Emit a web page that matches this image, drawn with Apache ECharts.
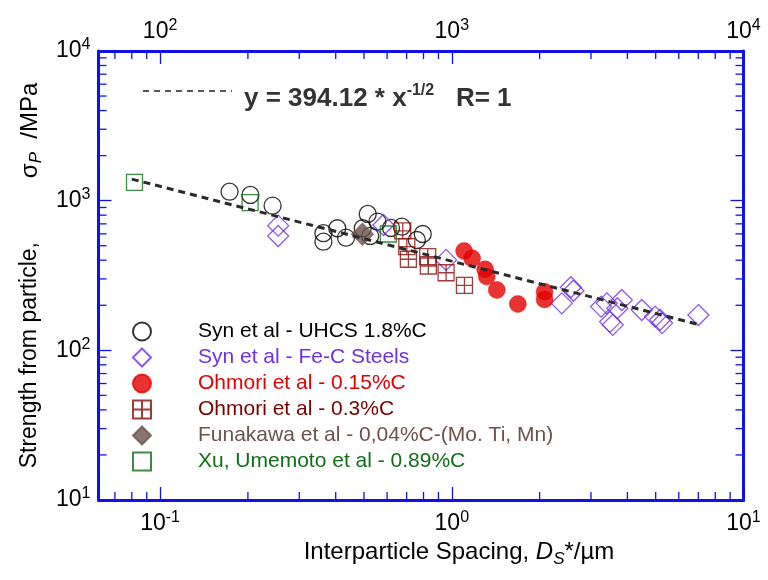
<!DOCTYPE html>
<html>
<head>
<meta charset="utf-8">
<title>Particle strength vs interparticle spacing</title>
<script src="https://cdn.jsdelivr.net/npm/echarts@6/dist/echarts.min.js"></script>
<style>
  html, body { margin: 0; padding: 0; background: #fff; }
  #chart { width: 768px; height: 580px; }
</style>
</head>
<body>
<div id="chart"></div>
<script>
// Interparticle spacing Ds* (µm) against strength from particles σp (MPa)

// Syn et al - UHCS 1.8%C
const synUhcsX = [0.173, 0.204, 0.243, 0.363, 0.363, 0.405, 0.434, 0.495, 0.515, 0.525, 0.556, 0.619, 0.674, 0.759, 0.795];
const synUhcsY = [1148, 1092, 926, 606, 532, 654, 566, 654, 815, 581, 724, 657, 670, 546, 599];

// Syn et al - Fe-C steels
const synFeCX = [0.254, 0.254, 0.583, 0.956, 2.383, 2.559, 2.612, 3.25, 3.40, 3.488, 3.563, 3.695, 3.826, 4.481, 4.977, 5.177, 5.26, 7.005];
const synFeCY = [681, 581, 688, 402, 206, 264, 250, 196, 206, 155, 148, 191, 217, 186, 168, 160, 152, 172];

// Ohmori et al - 0.15%C
const ohmori015X = [1.102, 1.174, 1.301, 1.318, 1.427, 1.684, 2.08, 2.08];
const ohmori015Y = [461, 412, 348, 311, 253, 204, 246, 219];

// Ohmori et al - 0.3%C
const ohmori03X = [0.679, 0.701, 0.710, 0.827, 0.831, 0.956, 1.105];
const ohmori03Y = [628, 493, 406, 423, 366, 330, 272];

// Funakawa et al
const funakawaX = [0.494];
const funakawaY = [597];

// Xu, Umemoto et al - 0.89%C
const xuX = [0.0817, 0.2035, 0.606];
const xuY = [1327, 970, 599];

// Power-law fit  y = 394.12 * x^(-1/2)
const fitCoef = 394.12;
const fitExponent = -0.5;
const fitSpan = [0.08, 7.1];

// Axis ranges and decade labels
const xRange = [0.0615, 10];
const topRange = [61.5, 10000];
const yRange = [10, 10000];
const bottomDecades = [-1, 0, 1];
const topDecades = [2, 3, 4];
const leftDecades = [1, 2, 3, 4];

// Minor tick positions (2..9 of each decade)
const minorX = [0.07, 0.08, 0.09, 0.2, 0.3, 0.4, 0.5, 0.6, 0.7, 0.8, 0.9, 2, 3, 4, 5, 6, 7, 8, 9];
const minorY = [20, 30, 40, 50, 60, 70, 80, 90, 200, 300, 400, 500, 600, 700, 800, 900, 2000, 3000, 4000, 5000, 6000, 7000, 8000, 9000];

const FONT = "'Liberation Sans', Arial, sans-serif";
const AXIS_BLUE = '#1010e8';
const HOLLOW = 'rgba(255,255,255,0)';

// Marker outlines (path symbols keep their aspect in the legend)
const DIAMOND = 'path://M5,0L10,5L5,10L0,5Z';
const SQUARE = 'path://M0,0H10V10H0Z';
const SQUARE_CROSS = 'path://M0,0H10V10H0Z M5,0V10 M0,5H10';

const zip = (xs, ys) => xs.map((x, i) => [x, ys[i]]);

function decadeLabel(decades) {
  return function (v) {
    const e = Math.log10(v);
    const r = Math.round(e);
    if (Math.abs(e - r) > 1e-6 || decades.indexOf(r) < 0) return '';
    return '{b|10}{s|' + r + '}';
  };
}

const labelRich = {
  b: { fontFamily: FONT, fontSize: 23, color: '#000', lineHeight: 28, verticalAlign: 'middle' },
  s: { fontFamily: FONT, fontSize: 16, color: '#000', lineHeight: 16, verticalAlign: 'top' }
};

function logAxis(extra) {
  return Object.assign({
    type: 'log',
    logBase: 10,
    axisLine: { show: true, onZero: false, lineStyle: { color: AXIS_BLUE, width: 3 } },
    axisTick: { show: true, inside: true, length: 13, lineStyle: { color: AXIS_BLUE, width: 1.3 } },
    splitLine: { show: false },
    minorTick: { show: false },
    minorSplitLine: { show: false }
  }, extra);
}

function minorTickSeries(values, horizontal) {
  return {
    type: 'custom',
    silent: true,
    clip: false,
    z: 6,
    xAxisIndex: 0,
    yAxisIndex: 0,
    data: horizontal ? values.map(v => [v, yRange[0]]) : values.map(v => [1, v]),
    renderItem: function (params, api) {
      const cs = params.coordSys;
      const p = api.coord([api.value(0), api.value(1)]);
      const len = 8;
      const st = { stroke: AXIS_BLUE, lineWidth: 1.3 };
      if (horizontal) {
        const x = p[0];
        return { type: 'group', children: [
          { type: 'line', shape: { x1: x, y1: cs.y + cs.height, x2: x, y2: cs.y + cs.height - len }, style: st },
          { type: 'line', shape: { x1: x, y1: cs.y, x2: x, y2: cs.y + len }, style: st }
        ] };
      }
      const y = p[1];
      return { type: 'group', children: [
        { type: 'line', shape: { x1: cs.x, y1: y, x2: cs.x + len, y2: y }, style: st },
        { type: 'line', shape: { x1: cs.x + cs.width, y1: y, x2: cs.x + cs.width - len, y2: y }, style: st }
      ] };
    }
  };
}

const fitLine = fitSpan.map(x => [x, fitCoef * Math.pow(x, fitExponent)]);

const legendItems = [
  { name: 'Syn et al - UHCS 1.8%C', textStyle: { color: '#000000' } },
  { name: 'Syn et al - Fe-C Steels', textStyle: { color: '#7030e6' } },
  { name: 'Ohmori et al - 0.15%C', textStyle: { color: '#e40000' } },
  { name: 'Ohmori et al - 0.3%C', textStyle: { color: '#780000' } },
  { name: 'Funakawa et al - 0,04%C-(Mo. Ti, Mn)', textStyle: { color: '#6b524b' } },
  { name: 'Xu, Umemoto et al - 0.89%C', textStyle: { color: '#0f6e18' } }
];

const chart = echarts.init(document.getElementById('chart'), null, { renderer: 'canvas' });

chart.setOption({
  animation: false,
  backgroundColor: '#ffffff',
  grid: { left: 98.5, right: 24.5, top: 51, bottom: 80, containLabel: false },
  xAxis: [
    logAxis({
      position: 'bottom',
      min: xRange[0], max: xRange[1],
      axisLabel: { formatter: decadeLabel(bottomDecades), margin: 10, rich: labelRich },
      name: '{n|Interparticle Spacing, }{i|D}{sub|S}{n|*/µm}',
      nameLocation: 'middle',
      nameGap: 35,
      nameTextStyle: {
        padding: [0, 0, 0, 76],
        rich: {
          n: { fontFamily: FONT, fontSize: 24, color: '#000', lineHeight: 30, verticalAlign: 'middle' },
          i: { fontFamily: FONT, fontSize: 24, fontStyle: 'italic', color: '#000', lineHeight: 30, verticalAlign: 'middle' },
          sub: { fontFamily: FONT, fontSize: 17, fontStyle: 'italic', color: '#000', lineHeight: 14, verticalAlign: 'bottom' }
        }
      }
    }),
    logAxis({
      position: 'top',
      min: topRange[0], max: topRange[1],
      axisLabel: { formatter: decadeLabel(topDecades), margin: 5, rich: labelRich }
    })
  ],
  yAxis: [
    logAxis({
      position: 'left',
      min: yRange[0], max: yRange[1],
      axisLabel: { formatter: decadeLabel(leftDecades), margin: 8, rich: labelRich },
      name: '{n|Strength from particle,          }{m|σ}{sub|P}{m|  /MPa}',
      nameLocation: 'middle',
      nameRotate: 90,
      nameGap: 52,
      nameTextStyle: {
        padding: [0, 0, 0, 0],
        rich: {
          n: { fontFamily: FONT, fontSize: 23, color: '#000', lineHeight: 30, verticalAlign: 'middle' },
          m: { fontFamily: FONT, fontSize: 24, color: '#000', lineHeight: 30, verticalAlign: 'middle' },
          sub: { fontFamily: FONT, fontSize: 17, fontStyle: 'italic', color: '#000', lineHeight: 14, verticalAlign: 'bottom' }
        }
      }
    }),
    logAxis({
      position: 'right',
      min: yRange[0], max: yRange[1],
      axisLabel: { show: false }
    })
  ],
  legend: {
    orient: 'vertical',
    left: 127,
    top: 316,
    itemWidth: 18,
    itemHeight: 18,
    itemGap: 5,
    selectedMode: false,
    data: legendItems,
    formatter: name => '{sp|}' + name,
    textStyle: {
      fontFamily: FONT, fontSize: 21, lineHeight: 20,
      rich: { sp: { width: 42, height: 20 } }
    }
  },
  graphic: [
    {
      type: 'line',
      shape: { x1: 143, y1: 91, x2: 232, y2: 91 },
      style: { stroke: '#222', lineWidth: 1.6, lineDash: [6, 5] },
      silent: true
    },
    {
      type: 'text',
      left: 244,
      top: 83,
      silent: true,
      style: {
        text: '{b|y = 394.12 * x}{s|-1/2}{b|   R= 1}',
        rich: {
          b: { fontFamily: FONT, fontWeight: 'bold', fontSize: 26, fill: '#333', lineHeight: 32, verticalAlign: 'middle' },
          s: { fontFamily: FONT, fontWeight: 'bold', fontSize: 16, fill: '#333', lineHeight: 16, verticalAlign: 'top' }
        }
      }
    }
  ],
  series: [
    minorTickSeries(minorX, true),
    minorTickSeries(minorY, false),
    {
      name: 'Syn et al - UHCS 1.8%C',
      type: 'scatter', xAxisIndex: 0, yAxisIndex: 0,
      data: zip(synUhcsX, synUhcsY),
      symbol: 'circle', symbolSize: 17, z: 3,
      itemStyle: { color: HOLLOW, borderColor: '#000', borderWidth: 1.3 }
    },
    {
      name: 'Syn et al - Fe-C Steels',
      type: 'scatter', xAxisIndex: 0, yAxisIndex: 0,
      data: zip(synFeCX, synFeCY),
      symbol: DIAMOND, symbolSize: 21, z: 3,
      itemStyle: { color: HOLLOW, borderColor: '#7030e6', borderWidth: 1.3 }
    },
    {
      name: 'Ohmori et al - 0.15%C',
      type: 'scatter', xAxisIndex: 0, yAxisIndex: 0,
      data: zip(ohmori015X, ohmori015Y),
      symbol: 'circle', symbolSize: 17, z: 3,
      itemStyle: { color: '#e40000', borderColor: '#e40000', borderWidth: 0.5 }
    },
    {
      name: 'Ohmori et al - 0.3%C',
      type: 'scatter', xAxisIndex: 0, yAxisIndex: 0,
      data: zip(ohmori03X, ohmori03Y),
      symbol: SQUARE_CROSS, symbolSize: 16, z: 3,
      itemStyle: { color: HOLLOW, borderColor: '#8a0a0a', borderWidth: 1.3 }
    },
    {
      name: 'Funakawa et al - 0,04%C-(Mo. Ti, Mn)',
      type: 'scatter', xAxisIndex: 0, yAxisIndex: 0,
      data: zip(funakawaX, funakawaY),
      symbol: DIAMOND, symbolSize: 23, z: 3,
      itemStyle: { color: '#6b524b', borderColor: '#6b524b', borderWidth: 0.5 }
    },
    {
      name: 'Xu, Umemoto et al - 0.89%C',
      type: 'scatter', xAxisIndex: 0, yAxisIndex: 0,
      data: zip(xuX, xuY),
      symbol: SQUARE, symbolSize: 16, z: 3,
      itemStyle: { color: HOLLOW, borderColor: '#0f6e18', borderWidth: 1.3 }
    },
    {
      name: 'fit',
      type: 'line', xAxisIndex: 0, yAxisIndex: 0,
      data: fitLine,
      symbol: 'none', z: 4, silent: true,
      lineStyle: { color: '#2a2a2a', width: 3, type: [7, 5] }
    }
  ]
});
</script>
</body>
</html>
